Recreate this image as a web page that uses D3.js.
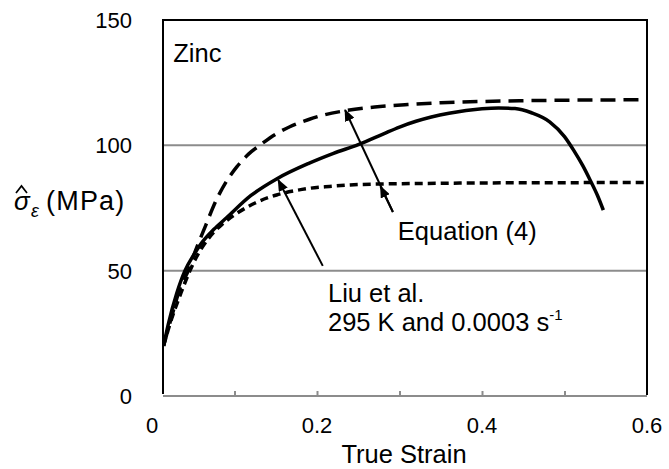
<!DOCTYPE html>
<html>
<head>
<meta charset="utf-8">
<script src="https://cdn.jsdelivr.net/npm/d3@7"></script>
<style>
  html, body { margin: 0; padding: 0; background: #fff; }
  svg { display: block; }
  text { font-family: "Liberation Sans", Arial, sans-serif; fill: #000; }
</style>
</head>
<body>
<svg id="chart" width="669" height="469"></svg>
<script>
// Measured flow stress of zinc (Liu et al., 295 K, 0.0003 1/s)
const liuStrain = [0.014, 0.02, 0.03, 0.04, 0.05, 0.06, 0.075, 0.09, 0.12, 0.151, 0.19, 0.22, 0.25, 0.28, 0.30, 0.32, 0.36, 0.40, 0.42, 0.44, 0.46, 0.482, 0.50, 0.511, 0.522, 0.531, 0.54, 0.547];
const liuStress = [20, 29, 41, 50, 56, 61, 66.5, 71, 80, 86.6, 92.8, 96.8, 100.3, 104.5, 107.3, 109.6, 112.8, 114.6, 114.9, 114.7, 113.0, 109.4, 103.5, 98.1, 92.0, 86.2, 80.0, 74.2];

// Equation (4), upper bound (long dashes)
const eqUpperStrain = [0.014, 0.025, 0.035, 0.044, 0.05, 0.065, 0.078, 0.09, 0.103, 0.117, 0.131, 0.15, 0.167, 0.19, 0.208, 0.234, 0.27, 0.31, 0.35, 0.40, 0.45, 0.50, 0.55, 0.60];
const eqUpperStress = [20, 33, 44, 50, 55.6, 68, 78.2, 85.5, 91.5, 96.5, 100.1, 104.5, 107.4, 110.3, 112.1, 113.8, 115.3, 116.3, 117.0, 117.5, 117.8, 118.0, 118.1, 118.2];

// Equation (4), lower bound (short dashes)
const eqLowerStrain = [0.014, 0.022, 0.035, 0.046, 0.05, 0.07, 0.085, 0.103, 0.125, 0.151, 0.175, 0.192, 0.215, 0.24, 0.28, 0.33, 0.40, 0.50, 0.60];
const eqLowerStress = [20, 29, 41, 50, 52.9, 63.5, 68.5, 72.9, 77, 80.2, 82, 82.9, 83.6, 84.2, 84.6, 84.8, 85.0, 85.1, 85.2];

// Axis ticks
const xTickLabels = [0, 0.2, 0.4, 0.6];
const xMinorTicks = [0.1, 0.2, 0.3, 0.4, 0.5];
const yTickValues = [0, 50, 100, 150];
const yGridValues = [50, 100];

// Annotation arrows: [fromStrain, fromStress, toStrain, toStress]
const liuArrow = [0.207, 51.9, 0.153, 86.2];
const eqArrows = [
  [0.292, 73.4, 0.234, 114.1],
  [0.292, 73.4, 0.277, 83.6]
];

// Text annotations placed in data units
const zincLabel = { text: "Zinc", strain: 0.0258, stress: 133.3 };
const eqLabel = { text: "Equation (4)", strain: 0.298, stress: 62.2 };
const liuLabel1 = { text: "Liu et al.", strain: 0.2133, stress: 37.6 };
const liuLabel2 = { text: "295 K and 0.0003 s", sup: "-1", strain: 0.2133, stress: 25.9 };

const svg = d3.select("#chart");

const plotLeft = 163, plotRight = 647, plotTop = 20, plotBottom = 396;
const x = d3.scaleLinear().domain([0, 0.6]).range([152, 647]);
const y = d3.scaleLinear().domain([0, 150]).range([plotBottom, plotTop]);

// clip for the curves
svg.append("defs").append("clipPath").attr("id", "plotClip")
  .append("rect")
  .attr("x", plotLeft).attr("y", plotTop)
  .attr("width", plotRight - plotLeft).attr("height", plotBottom - plotTop);

// arrowhead marker
svg.select("defs").append("marker")
  .attr("id", "head")
  .attr("viewBox", "0 0 12 10")
  .attr("refX", 11).attr("refY", 5)
  .attr("markerWidth", 12).attr("markerHeight", 10)
  .attr("markerUnits", "userSpaceOnUse")
  .attr("orient", "auto")
  .append("path").attr("d", "M0,0 L12,5 L0,10 Z").attr("fill", "#000");

// horizontal gridlines
svg.append("g").selectAll("line").data(yGridValues).join("line")
  .attr("x1", plotLeft).attr("x2", plotRight)
  .attr("y1", d => y(d)).attr("y2", d => y(d))
  .attr("stroke", "#8c8c8c").attr("stroke-width", 2);

// bottom axis (grey) with inward ticks
const xAxis = d3.axisBottom(x).tickValues(xMinorTicks).tickSize(-5).tickFormat("");
const gx = svg.append("g").attr("transform", `translate(0,${plotBottom})`).call(xAxis);
gx.select(".domain").remove();
gx.selectAll(".tick line").attr("stroke", "#8c8c8c").attr("stroke-width", 2);
svg.append("line")
  .attr("x1", plotLeft).attr("x2", plotRight)
  .attr("y1", plotBottom).attr("y2", plotBottom)
  .attr("stroke", "#8c8c8c").attr("stroke-width", 2);

// frame: left, top, right in black
svg.append("path")
  .attr("d", `M${plotLeft},${plotBottom - 2} L${plotLeft},${plotTop} L${plotRight},${plotTop} L${plotRight},${plotBottom - 1}`)
  .attr("fill", "none").attr("stroke", "#000").attr("stroke-width", 2);

// x tick labels
svg.append("g").selectAll("text").data(xTickLabels).join("text")
  .attr("x", d => x(d)).attr("y", 433)
  .attr("text-anchor", "middle")
  .attr("font-size", 22)
  .text(d => d);

// y tick labels
svg.append("g").selectAll("text").data(yTickValues).join("text")
  .attr("x", 132).attr("y", d => y(d) + 8)
  .attr("text-anchor", "end")
  .attr("font-size", 22)
  .text(d => d);

// axis titles
svg.append("text")
  .attr("x", 404).attr("y", 463)
  .attr("text-anchor", "middle")
  .attr("font-size", 25.5)
  .text("True Strain");

const yTitle = svg.append("g");
yTitle.append("text")
  .attr("x", 14).attr("y", 210)
  .attr("font-size", 26).attr("font-style", "italic")
  .text("σ");
// circumflex over sigma
yTitle.append("path")
  .attr("d", "M16,193 L21.5,186 L27,193")
  .attr("fill", "none").attr("stroke", "#000").attr("stroke-width", 1.7);
yTitle.append("text")
  .attr("x", 31).attr("y", 217)
  .attr("font-size", 18).attr("font-style", "italic")
  .text("ε");
yTitle.append("text")
  .attr("x", 46).attr("y", 210)
  .attr("font-size", 27).attr("letter-spacing", 1.2)
  .text("(MPa)");

// curves
const line = d3.line()
  .x(d => x(d[0])).y(d => y(d[1]))
  .curve(d3.curveMonotoneX);

const curves = svg.append("g").attr("clip-path", "url(#plotClip)");
const series = [
  { strain: eqUpperStrain, stress: eqUpperStress, dash: "15,8" },
  { strain: eqLowerStrain, stress: eqLowerStress, dash: "8,5" },
  { strain: liuStrain, stress: liuStress, dash: null }
];
series.forEach(s => {
  curves.append("path")
    .datum(d3.zip(s.strain, s.stress))
    .attr("d", line)
    .attr("fill", "none")
    .attr("stroke", "#000")
    .attr("stroke-width", 3.5)
    .attr("stroke-dasharray", s.dash);
});

// arrows
svg.append("g").selectAll("line").data([liuArrow, ...eqArrows]).join("line")
  .attr("x1", d => x(d[0])).attr("y1", d => y(d[1]))
  .attr("x2", d => x(d[2])).attr("y2", d => y(d[3]))
  .attr("stroke", "#000").attr("stroke-width", 2)
  .attr("marker-end", "url(#head)");

// annotations
svg.append("text")
  .attr("x", x(zincLabel.strain)).attr("y", y(zincLabel.stress))
  .attr("font-size", 25.5).text(zincLabel.text);
svg.append("text")
  .attr("x", x(eqLabel.strain)).attr("y", y(eqLabel.stress))
  .attr("font-size", 25.5).text(eqLabel.text);
svg.append("text")
  .attr("x", x(liuLabel1.strain)).attr("y", y(liuLabel1.stress))
  .attr("font-size", 25.5).text(liuLabel1.text);
const l2 = svg.append("text")
  .attr("x", x(liuLabel2.strain)).attr("y", y(liuLabel2.stress))
  .attr("font-size", 25.5);
l2.append("tspan").text(liuLabel2.text);
l2.append("tspan").attr("font-size", 15).attr("dy", -11).text(liuLabel2.sup);
</script>
</body>
</html>
